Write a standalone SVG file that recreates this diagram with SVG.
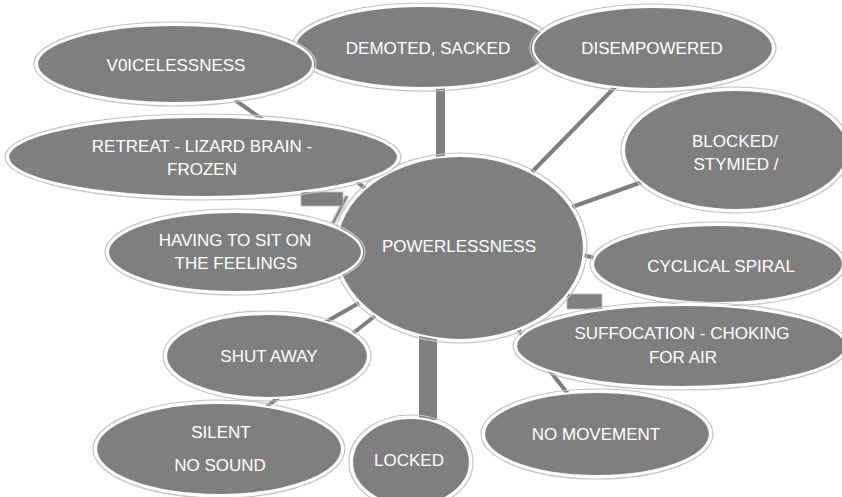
<svg xmlns="http://www.w3.org/2000/svg" width="842" height="497" viewBox="0 0 842 497">
<style>
.o{fill:none;stroke:#c4c4c4;stroke-width:1.2}
.n{fill:#7f7f7f;stroke:#ffffff;stroke-width:2.2}
.t{font-family:"Liberation Sans",Arial,sans-serif;font-size:17px;fill:#ffffff;text-anchor:middle}
.c{stroke:#7f7f7f;stroke-width:4;fill:none}
.b{fill:#7f7f7f;stroke:#bdbdbd;stroke-width:0.8}
</style>
<rect width="842" height="497" fill="#ffffff"/>
<g id="connectors">
<line class="c" x1="235" y1="100" x2="266" y2="122"/>
<line class="c" x1="352" y1="178" x2="366" y2="189"/>
<line class="c" x1="347" y1="196" x2="333" y2="223" style="stroke:#cfcfcf;stroke-width:5"/>
<line class="c" x1="347" y1="196" x2="333" y2="223" style="stroke-width:2"/>
<rect x="436" y="86" width="9" height="74" fill="#7f7f7f"/>
<line class="c" x1="616" y1="86" x2="531" y2="173"/>
<line class="c" x1="642" y1="182" x2="572" y2="207"/>
<line class="c" x1="583" y1="255" x2="598" y2="259"/>
<line class="c" x1="517" y1="327" x2="524" y2="338"/>
<line class="c" x1="543" y1="362" x2="568" y2="394"/>
<rect x="419" y="336" width="18" height="84" fill="#7f7f7f"/>
<line class="c" x1="324" y1="323" x2="359" y2="303"/>
<line class="c" x1="352" y1="334" x2="375" y2="316"/>
<line class="c" x1="266" y1="407" x2="282" y2="395"/>
<rect class="b" x="301" y="192" width="42" height="14"/>
<rect class="b" x="567" y="294" width="35" height="15"/>
</g>
<g id="powerlessness">
<ellipse class="o" cx="460" cy="248" rx="127" ry="95"/>
<ellipse class="n" cx="460" cy="248" rx="124" ry="92"/>
<text class="t" x="459" y="252">POWERLESSNESS</text>
</g>
<g id="demoted">
<ellipse class="o" cx="423" cy="47" rx="131" ry="44"/>
<ellipse class="n" cx="423" cy="47" rx="128" ry="41"/>
<text class="t" x="428" y="54">DEMOTED, SACKED</text>
</g>
<g id="disempowered">
<ellipse class="o" cx="653" cy="48" rx="123" ry="44"/>
<ellipse class="n" cx="653" cy="48" rx="120" ry="41"/>
<text class="t" x="652" y="54">DISEMPOWERED</text>
</g>
<g id="voicelessness">
<ellipse class="o" cx="175" cy="64" rx="141" ry="42"/>
<ellipse class="n" cx="175" cy="64" rx="138" ry="39"/>
<text class="t" x="176" y="71">V0ICELESSNESS</text>
</g>
<g id="retreat">
<ellipse class="o" cx="203" cy="157" rx="198" ry="43"/>
<ellipse class="n" cx="203" cy="157" rx="195" ry="40"/>
<text class="t" x="202" y="152">RETREAT - LIZARD BRAIN -</text>
<text class="t" x="202" y="175">FROZEN</text>
</g>
<g id="blocked">
<ellipse class="o" cx="736" cy="150" rx="115" ry="63"/>
<ellipse class="n" cx="736" cy="150" rx="112" ry="60"/>
<text class="t" x="735" y="147">BLOCKED/</text>
<text class="t" x="736" y="170">STYMIED /</text>
</g>
<g id="having">
<ellipse class="o" cx="235" cy="252" rx="130" ry="43"/>
<ellipse class="n" cx="235" cy="252" rx="127" ry="40"/>
<text class="t" x="235" y="246">HAVING TO SIT ON</text>
<text class="t" x="236" y="269">THE FEELINGS</text>
</g>
<g id="cyclical">
<ellipse class="o" cx="718" cy="264" rx="128" ry="42"/>
<ellipse class="n" cx="718" cy="264" rx="125" ry="39"/>
<text class="t" x="721" y="272">CYCLICAL SPIRAL</text>
</g>
<g id="suffocation">
<ellipse class="o" cx="681" cy="346" rx="168" ry="44"/>
<ellipse class="n" cx="681" cy="346" rx="165" ry="41"/>
<text class="t" x="682" y="339">SUFFOCATION - CHOKING</text>
<text class="t" x="683" y="363">FOR AIR</text>
</g>
<g id="shutaway">
<ellipse class="o" cx="267" cy="356" rx="104" ry="45"/>
<ellipse class="n" cx="267" cy="356" rx="101" ry="42"/>
<text class="t" x="269" y="362">SHUT AWAY</text>
</g>
<g id="nomovement">
<ellipse class="o" cx="597" cy="434" rx="116" ry="45"/>
<ellipse class="n" cx="597" cy="434" rx="113" ry="42"/>
<text class="t" x="596" y="440">NO MOVEMENT</text>
</g>
<g id="silent">
<ellipse class="o" cx="219" cy="449" rx="126" ry="49"/>
<ellipse class="n" cx="219" cy="449" rx="123" ry="46"/>
<text class="t" x="221" y="438">SILENT</text>
<text class="t" x="220" y="471">NO SOUND</text>
</g>
<g id="locked">
<ellipse class="o" cx="411" cy="462" rx="62" ry="47"/>
<ellipse class="n" cx="411" cy="462" rx="59" ry="44"/>
<text class="t" x="409" y="466">LOCKED</text>
</g>
</svg>
